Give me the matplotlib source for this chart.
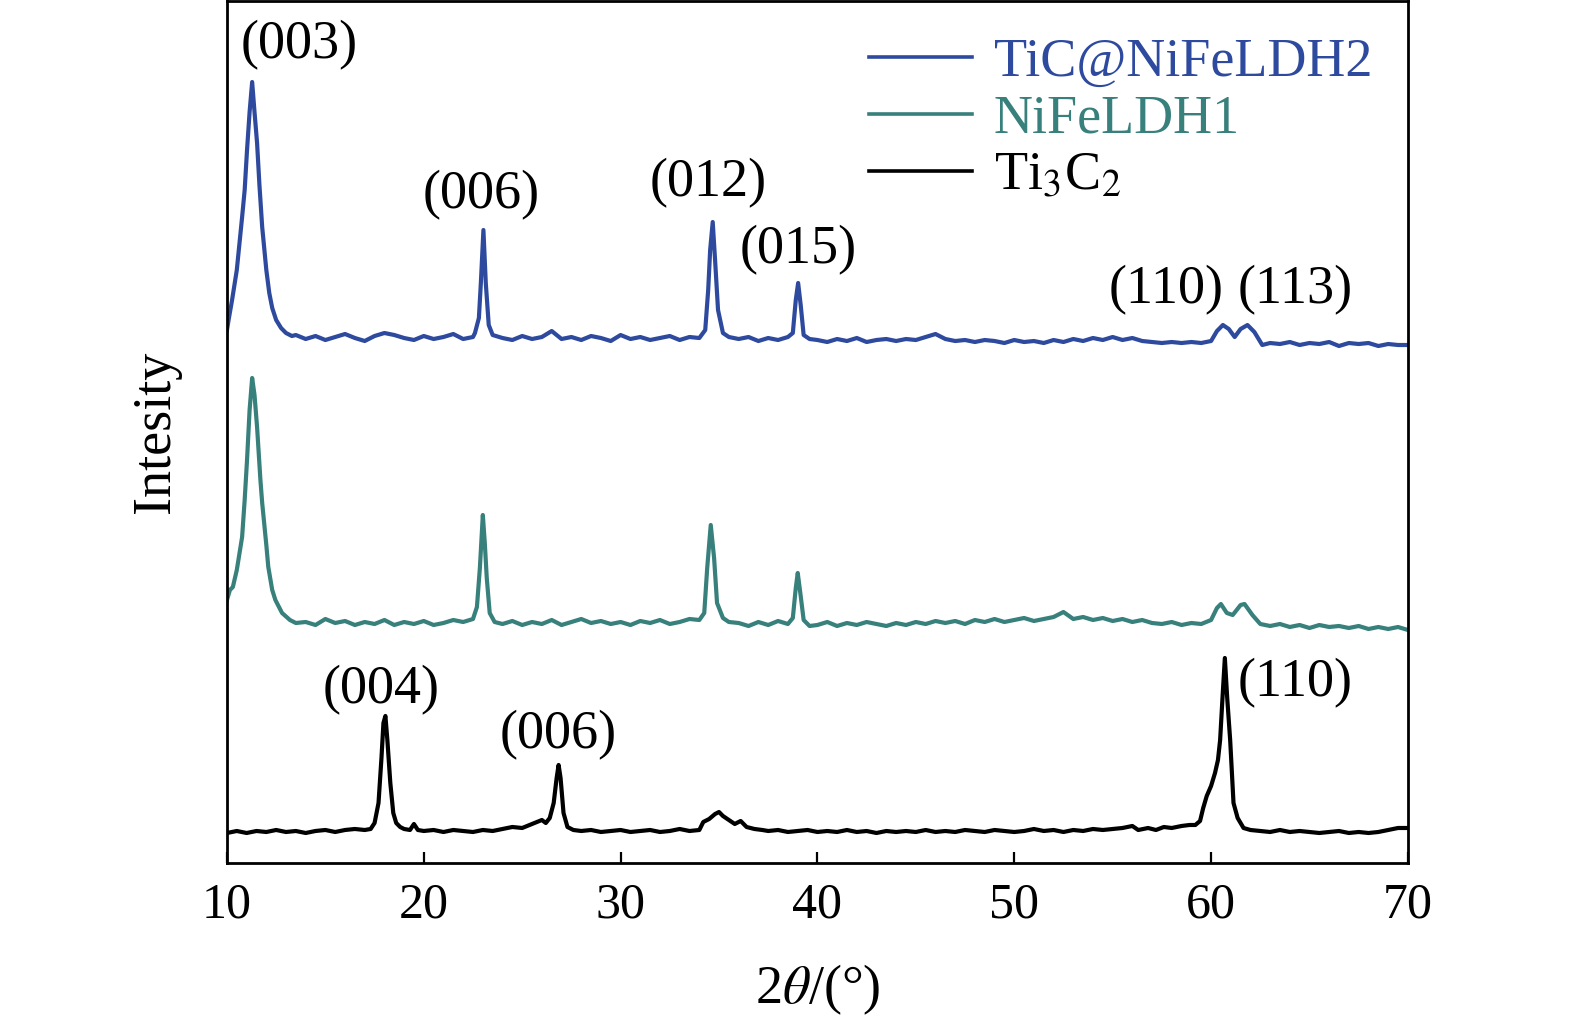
import matplotlib
matplotlib.use('Agg')
import matplotlib.pyplot as plt

plt.rcParams['font.family'] = ['Liberation Serif', 'DejaVu Serif']
plt.rcParams['mathtext.fontset'] = 'stix'

# XRD patterns (intensity in a.u., stacked as drawn)
ldh2_x = [10.0, 10.1, 10.26, 10.5, 10.77, 10.9, 11.02, 11.15, 11.28, 11.4, 11.53, 11.65, 11.79,
          12.0, 12.15, 12.3, 12.5, 12.75, 13.0, 13.3,
          13.5, 14.0, 14.5, 15.0, 15.5, 16.0, 16.5, 17.0, 17.5, 18.0, 18.5, 19.0, 19.5, 20.0, 20.5,
          21.0, 21.5, 22.0, 22.5,
          22.6, 22.8, 22.9, 23.03, 23.15, 23.3, 23.5,
          24.0, 24.5, 25.0, 25.5, 26.0, 26.5, 27.0, 27.5, 28.0, 28.5, 29.0, 29.5, 30.0, 30.5, 31.0,
          31.5, 32.0, 32.5, 33.0, 33.5, 34.0,
          34.3, 34.45, 34.55, 34.68, 34.8, 34.95, 35.2, 35.5,
          36.0, 36.5, 37.0, 37.5, 38.0, 38.5,
          38.75, 38.9, 39.02, 39.15, 39.3, 39.6,
          40.0, 40.5, 41.0, 41.5, 42.0, 42.5, 43.0, 43.5, 44.0, 44.5, 45.0, 45.5, 46.0, 46.5, 47.0,
          47.5, 48.0, 48.5, 49.0, 49.5, 50.0, 50.5, 51.0, 51.5, 52.0, 52.5, 53.0, 53.5, 54.0, 54.5,
          55.0, 55.5, 56.0, 56.5, 57.0, 57.5, 58.0, 58.5, 59.0, 59.5, 60.0,
          60.3, 60.6, 60.9, 61.2, 61.5, 61.85, 62.2, 62.6,
          63.0, 63.5, 64.0, 64.5, 65.0, 65.5, 66.0, 66.5, 67.0, 67.5, 68.0, 68.5, 69.0, 69.5, 70.0]
ldh2_y = [528, 540, 558, 588, 641, 668, 708, 746, 776, 746, 715, 673, 631,
          588, 565, 550, 538, 530, 525, 522,
          523, 519, 522, 518, 521, 524, 520, 517, 522, 525, 523, 520, 518, 522, 519,
          521, 524, 519, 521,
          525, 540, 575, 628, 575, 533, 523,
          520, 518, 522, 519, 521, 527, 519, 521, 518, 522, 520, 517, 523, 519, 521,
          518, 520, 522, 518, 521, 520,
          528, 568, 608, 636, 598, 548, 525, 521,
          519, 521, 517, 520, 518, 521,
          525, 558, 575, 553, 523, 519,
          518, 516, 519, 517, 520, 516, 518, 519, 517, 519, 518, 521, 524, 519, 517,
          518, 516, 518, 517, 515, 518, 516, 517, 515, 518, 516, 519, 517, 520, 518,
          521, 518, 520, 517, 516, 515, 516, 515, 516, 515, 517,
          527, 533, 529, 521, 529, 533, 526, 513,
          515, 514, 516, 513, 515, 514, 516, 512, 515, 514, 515, 512, 514, 513, 513]

ldh1_x = [10.0, 10.15, 10.3, 10.5, 10.77, 10.9, 11.02, 11.15, 11.28, 11.4, 11.53, 11.7, 11.79,
          12.0, 12.1, 12.3, 12.46, 12.8, 13.2, 13.5,
          14.0, 14.5, 15.0, 15.5, 16.0, 16.5, 17.0, 17.5, 18.0, 18.5, 19.0, 19.5, 20.0, 20.5, 21.0,
          21.5, 22.0, 22.5,
          22.7, 22.85, 23.0, 23.1, 23.2, 23.35, 23.6,
          24.0, 24.5, 25.0, 25.5, 26.0, 26.5, 27.0, 27.5, 28.0, 28.5, 29.0, 29.5, 30.0, 30.5, 31.0,
          31.5, 32.0, 32.5, 33.0, 33.5, 34.0,
          34.25, 34.4, 34.58, 34.75, 34.9, 35.2, 35.5,
          36.0, 36.5, 37.0, 37.5, 38.0, 38.5,
          38.75, 38.9, 39.0, 39.15, 39.3, 39.6,
          40.0, 40.5, 41.0, 41.5, 42.0, 42.5, 43.0, 43.5, 44.0, 44.5, 45.0, 45.5, 46.0, 46.5, 47.0,
          47.5, 48.0, 48.5, 49.0, 49.5, 50.0, 50.5, 51.0, 51.5, 52.0, 52.5, 53.0, 53.5, 54.0, 54.5,
          55.0, 55.5, 56.0, 56.5, 57.0, 57.5, 58.0, 58.5, 59.0, 59.5, 60.0,
          60.3, 60.5, 60.8, 61.1, 61.5, 61.7, 62.1, 62.5,
          63.0, 63.5, 64.0, 64.5, 65.0, 65.5, 66.0, 66.5, 67.0, 67.5, 68.0, 68.5, 69.0, 69.5, 70.0]
ldh1_y = [258, 268, 271, 288, 321, 358, 398, 448, 480, 463, 431, 378, 355,
          313, 291, 268, 258, 245, 238, 235,
          236, 233, 239, 235, 237, 233, 236, 234, 238, 233, 236, 234, 237, 233, 235,
          238, 236, 239,
          251, 290, 343, 315, 280, 245, 236,
          234, 237, 233, 236, 234, 238, 233, 236, 239, 235, 237, 234, 236, 233, 237,
          235, 238, 234, 236, 239, 238,
          245, 290, 333, 300, 255, 240, 236,
          235, 232, 236, 233, 237, 234,
          240, 270, 285, 262, 238, 232,
          233, 236, 232, 235, 233, 236, 234, 232, 235, 233, 236, 234, 237, 235, 237,
          234, 238, 236, 239, 236, 238, 240, 237, 239, 241, 246, 239, 241, 238, 240,
          237, 239, 236, 238, 235, 234, 236, 233, 235, 234, 238,
          250, 254, 245, 243, 253, 254, 243, 234,
          232, 234, 231, 233, 230, 233, 231, 232, 230, 232, 229, 231, 229, 231, 228]

ti3c2_x = [10.0, 10.5, 11.0, 11.5, 12.0, 12.5, 13.0, 13.5, 14.0, 14.5, 15.0, 15.5, 16.0, 16.5,
           17.0, 17.3, 17.5, 17.7, 17.85, 17.95, 18.05, 18.15, 18.3, 18.45, 18.6, 18.8, 19.0,
           19.3, 19.5, 19.7, 20.0, 20.5, 21.0, 21.5, 22.0, 22.5, 23.0, 23.5, 24.0, 24.5, 25.0,
           25.5, 26.0, 26.2, 26.4, 26.6, 26.75, 26.85, 26.95, 27.1, 27.3, 27.6,
           28.0, 28.5, 29.0, 29.5, 30.0, 30.5, 31.0, 31.5, 32.0, 32.5, 33.0, 33.5, 34.0,
           34.2, 34.5, 34.8, 35.0, 35.2, 35.5, 35.8, 36.1, 36.4, 36.8, 37.2, 37.5,
           38.0, 38.5, 39.0, 39.5, 40.0, 40.5, 41.0, 41.5, 42.0, 42.5, 43.0, 43.5, 44.0, 44.5,
           45.0, 45.5, 46.0, 46.5, 47.0, 47.5, 48.0, 48.5, 49.0, 49.5, 50.0, 50.5, 51.0, 51.5,
           52.0, 52.5, 53.0, 53.5, 54.0, 54.5, 55.0, 55.5, 56.0, 56.3, 56.8, 57.2, 57.6, 58.0,
           58.5, 58.9, 59.2, 59.44, 59.6, 59.78, 60.0, 60.2, 60.35, 60.46, 60.58, 60.7, 60.82,
           60.97, 61.14, 61.35, 61.65, 62.0, 62.5, 63.0, 63.5, 64.0, 64.5, 65.0, 65.5, 66.0,
           66.5, 67.0, 67.5, 68.0, 68.5, 69.0, 69.5, 70.0]
ti3c2_y = [25, 27, 25, 27, 26, 28, 26, 27, 25, 27, 28, 26, 28, 29,
           28, 29, 35, 55, 100, 135, 142, 118, 75, 45, 35, 31, 29,
           28, 34, 28, 27, 28, 26, 28, 27, 26, 28, 27, 29, 31, 30,
           34, 38, 35, 40, 55, 80, 93, 80, 45, 31, 28,
           27, 28, 26, 27, 28, 26, 27, 28, 26, 27, 29, 27, 28,
           36, 39, 44, 46, 42, 38, 34, 37, 31, 29, 28, 27,
           28, 26, 27, 28, 26, 27, 26, 28, 26, 27, 25, 27, 26, 27,
           26, 28, 26, 27, 26, 28, 27, 26, 28, 27, 26, 27, 29, 27,
           28, 26, 28, 27, 29, 28, 29, 30, 32, 28, 30, 28, 31, 30,
           32, 33, 33, 37, 50, 62, 72, 85, 98, 118, 160, 200, 160,
           118, 55, 40, 30, 28, 27, 26, 28, 26, 27, 26, 25, 26,
           27, 25, 26, 25, 26, 28, 30, 30]

series_labels = ['TiC@NiFeLDH2', 'NiFeLDH1', 'Ti$_3$C$_2$']
series_colors = ['#2E4A9E', '#38807C', '#000000']

# peak indices: (text, 2theta, height)
peak_labels = [('(003)', 13.68, 813), ('(006)', 22.93, 663), ('(012)', 34.43, 675),
               ('(015)', 39.02, 608), ('(110)', 57.73, 568), ('(113)', 64.27, 568),
               ('(004)', 17.82, 168), ('(006)', 26.81, 123), ('(110)', 64.27, 175)]

fig = plt.figure(figsize=(15.75, 10.19), dpi=100)
ax = fig.add_axes([0.1441, 0.1531, 0.7498, 0.8459])

for xs, ys, lab, col in zip([ldh2_x, ldh1_x, ti3c2_x], [ldh2_y, ldh1_y, ti3c2_y],
                            series_labels, series_colors):
    ax.plot(xs, ys, color=col, lw=3.0, label=lab)

for txt, px, py in peak_labels:
    ax.text(px, py, txt, fontsize=39, ha='center', va='center')

ax.set_xlim(10, 70)
ax.set_ylim(-5, 857)
ax.set_xticks([10, 20, 30, 40, 50, 60, 70])
ax.set_yticks([])
ax.tick_params(axis='x', direction='in', length=8, width=1.6, labelsize=36, pad=14)
for sp in ax.spines.values():
    sp.set_linewidth(2.0)

ax.set_xlabel(r'2$\theta$/(°)', fontsize=39, labelpad=24)
ax.set_ylabel('Intesity', fontsize=39, labelpad=33)

leg = ax.legend(loc='upper left', bbox_to_anchor=(0.544, 0.958), frameon=False, fontsize=39,
                handlelength=1.9, handletextpad=0.4, labelspacing=0.12, borderpad=0,
                borderaxespad=0, labelcolor='linecolor')
for h in leg.get_lines():
    h.set_linewidth(2.6)

fig.savefig('out.png', dpi=100)
